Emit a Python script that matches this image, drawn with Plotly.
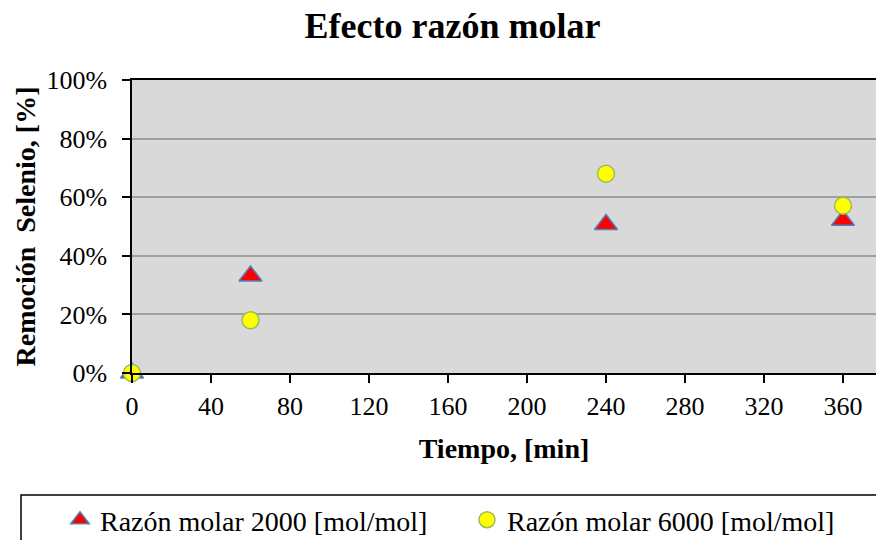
import plotly.graph_objects as go

tiempo = [0, 60, 240, 360]
remocion_2000 = [0.0, 0.331, 0.507, 0.521]
remocion_6000 = [0.0, 0.180, 0.680, 0.571]
series_names = ["Razón molar 2000 [mol/mol]", "Razón molar 6000 [mol/mol]"]
x_ticks = [0, 40, 80, 120, 160, 200, 240, 280, 320, 360]
y_ticks = [0, 0.2, 0.4, 0.6, 0.8, 1.0]

FONT = "Liberation Serif"
PLOT_L, PLOT_T, PLOT_W, PLOT_H = 132, 80, 744, 293

fig = go.Figure()
fig.add_trace(go.Scatter(
    x=tiempo, y=remocion_2000, mode="markers", name=series_names[0],
    marker=dict(symbol="triangle-up", size=20, color="#FF0000",
                line=dict(color="#4F81BD", width=1.5)),
    cliponaxis=False, legendwidth=362,
))
fig.add_trace(go.Scatter(
    x=tiempo, y=remocion_6000, mode="markers", name=series_names[1],
    marker=dict(symbol="circle", size=17, color="#FFFF00",
                line=dict(color="#9BBB59", width=1.5)),
    cliponaxis=False, legendwidth=330,
))

fig.update_layout(
    width=876, height=540,
    margin=dict(l=PLOT_L, r=0, t=PLOT_T, b=540 - PLOT_T - PLOT_H, autoexpand=False),
    paper_bgcolor="white",
    plot_bgcolor="#D9D9D9",
    font=dict(family=FONT, color="black", size=24),
    title=dict(text="<b>Efecto razón molar</b>", x=452.5 / 876, xanchor="center",
               xref="container", y=1 - 25 / 540, yanchor="middle", yref="container",
               font=dict(family=FONT, size=36, color="black")),
    showlegend=True,
    legend=dict(orientation="h", xref="paper", yref="paper",
                x=(60 - PLOT_L) / PLOT_W, xanchor="left",
                y=(PLOT_T + PLOT_H - 520) / PLOT_H, yanchor="middle",
                font=dict(family=FONT, size=28, color="black"),
                bgcolor="rgba(0,0,0,0)", borderwidth=0),
    xaxis=dict(range=[0, 376.7], tickvals=x_ticks, ticktext=[str(v) for v in x_ticks],
               showgrid=False, zeroline=False, automargin=False,
               showline=True, linecolor="black", linewidth=1.5, mirror=True,
               ticks="outside", ticklen=8, tickwidth=1.5, tickcolor="black",
               tickfont=dict(family=FONT, size=26, color="black"),
               ticklabelstandoff=1,
               title=dict(text="<b>Tiempo, [min]</b>", standoff=18,
                          font=dict(family=FONT, size=28, color="black"))),
    yaxis=dict(range=[0, 1], tickvals=y_ticks, tickformat=".0%",
               showgrid=True, gridcolor="#A0A0A0", gridwidth=1.5, zeroline=False,
               automargin=False,
               showline=True, linecolor="black", linewidth=1.5,
               ticks="outside", ticklen=8, tickwidth=1.5, tickcolor="black",
               tickfont=dict(family=FONT, size=26, color="black"),
               ticklabelstandoff=10,
               title=dict(text="<b>Remoción  Selenio, [%]</b>", standoff=3,
                          font=dict(family=FONT, size=28, color="black"))),
)

fig.add_shape(type="rect", xref="paper", yref="paper",
              x0=(21 - PLOT_L) / PLOT_W, x1=1.2,
              y0=(PLOT_T + PLOT_H - 495) / PLOT_H, y1=-0.7,
              line=dict(color="black", width=1.5), fillcolor="rgba(0,0,0,0)",
              layer="above")

fig.write_html("out.html",
               config={"displayModeBar": False},
               post_script="document.body.style.margin='0';document.body.style.overflow='hidden';")
